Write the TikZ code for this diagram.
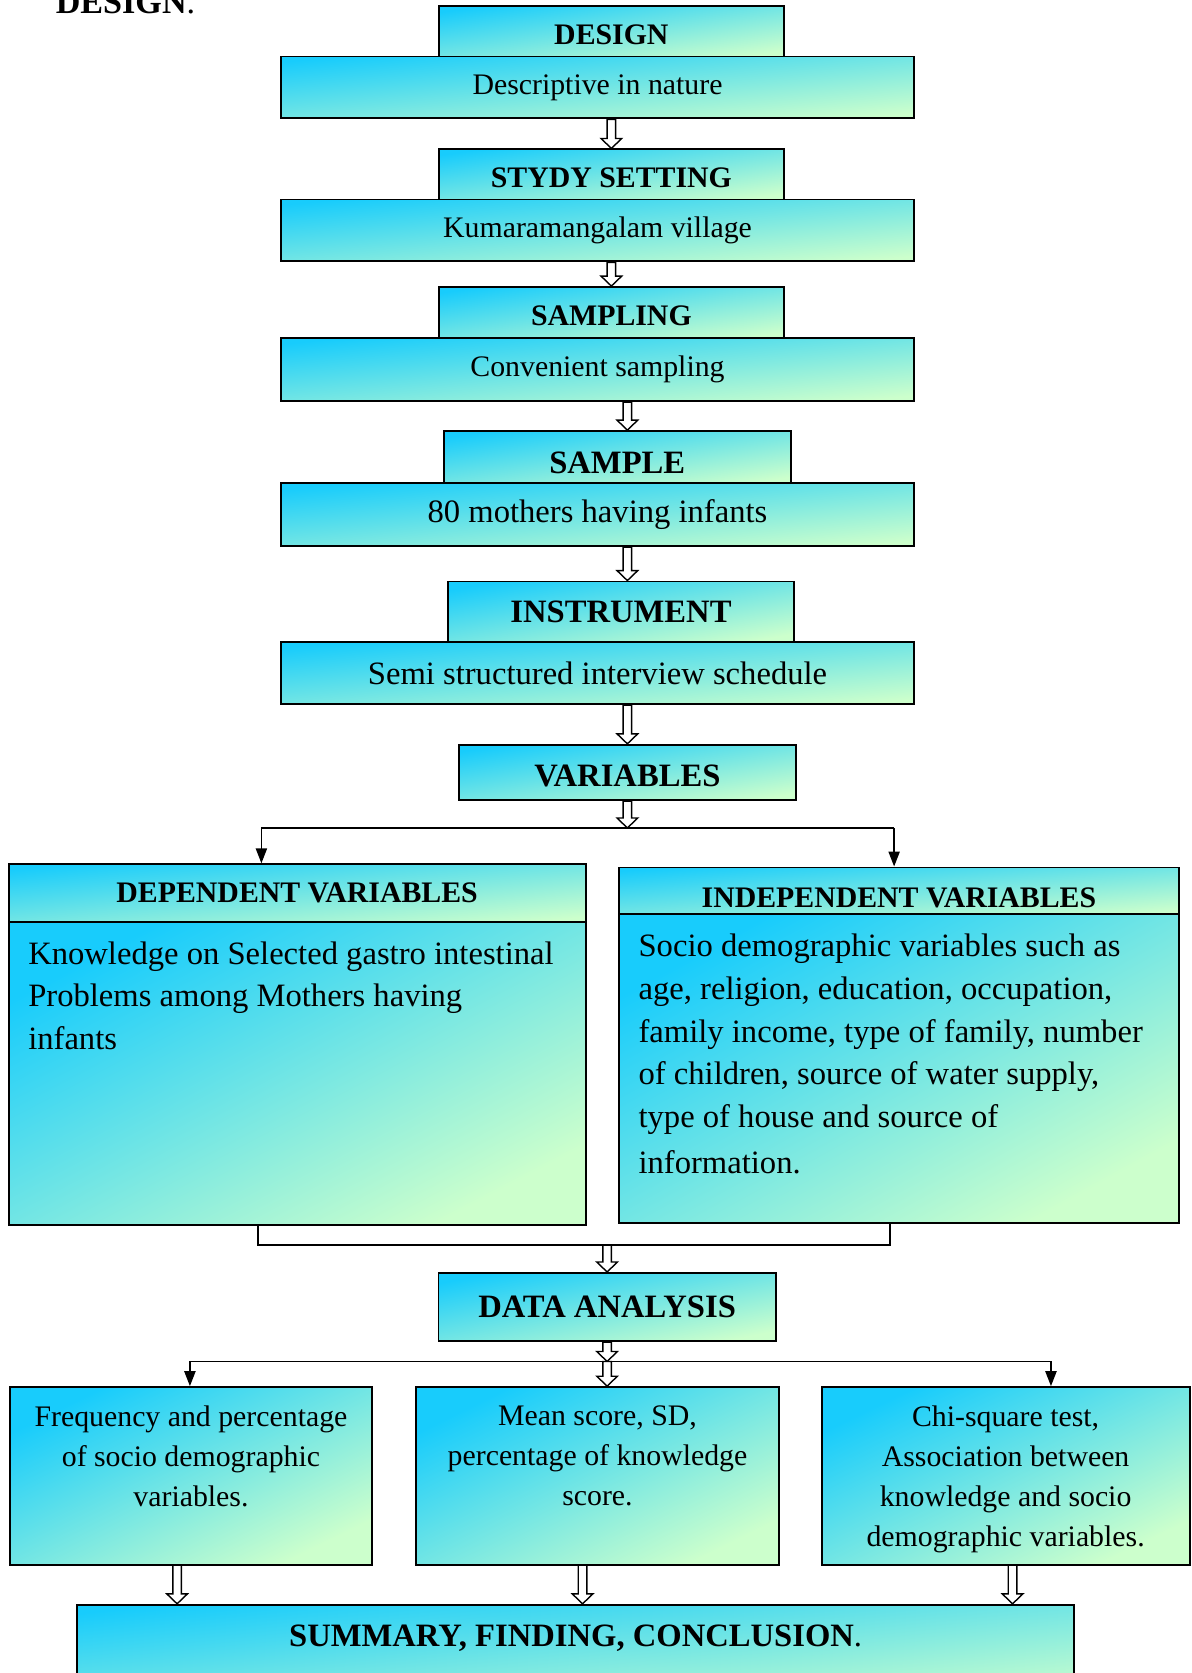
\documentclass[tikz,border=0pt]{standalone}
\usepackage{fontspec}
\setmainfont{Liberation Serif}
\usepackage{tikz}
\usetikzlibrary{arrows.meta, positioning, calc}

\definecolor{boxcyan}{RGB}{24,204,252}
\definecolor{boxgreen}{RGB}{204,255,204}

\tikzset{
  flowbox/.style={
    draw, line width=1pt, top color=boxcyan, bottom color=boxgreen,
    shading angle=#1, inner sep=0pt, align=center,
    font=\fontsize{15.9}{19}\selectfont
  },
  flowbox/.default=8,
  smallbold/.style={font=\fontsize{15.9}{19}\selectfont\bfseries},
  bigfont/.style={font=\fontsize{17.4}{22.8}\selectfont},
  bigbold/.style={font=\fontsize{17.4}{22.8}\selectfont\bfseries},
  lowtext/.style={text height=#1, text depth=0pt},
  headbox/.style={flowbox=#1, smallbold, minimum width=6.48cm},
  headbox/.default=8.3,
  widebox/.style={flowbox=5.6, minimum width=11.88cm, minimum height=1.16cm},
  sidetext/.style={align=left, inner sep=0pt, bigfont},
  smalltext/.style={align=center, inner sep=0pt,
    font=\fontsize{15.9}{21.3}\selectfont},
  hollow/.style={
    draw, fill=white, line width=0.75pt,
    to path={let \p1=(\tikztostart), \p2=(\tikztotarget) in
      (\x1-2.3pt,\y1) -- (\x1-2.3pt,\y2+5.3pt) -- (\x1-5.5pt,\y2+5.3pt)
      -- (\x1,\y2) -- (\x1+5.5pt,\y2+5.3pt) -- (\x1+2.3pt,\y2+5.3pt)
      -- (\x1+2.3pt,\y1) -- cycle}
  },
  splitline/.style={line width=0.8pt},
  splitarrow/.style={line width=0.8pt, -{Triangle[length=8pt, width=6pt]}},
}

\begin{document}
\begin{tikzpicture}[x=0.02cm, y=-0.02cm]
  \useasboundingbox (0,0) rectangle (1117,1568);

  % heading, cut at the page edge
  \node[anchor=base west, inner sep=0pt, font=\fontsize{18.2}{20}\selectfont]
    (title) at (52,12.5) {\textbf{DESIGN}.};

  % --- steps ---
  \node[headbox, lowtext=13.9pt, minimum height=0.94cm] (design) at (573,29.5) {DESIGN};
  \node[widebox] (descr) at (560,82) {Descriptive in nature};

  \node[headbox, lowtext=13.9pt, minimum height=0.94cm] (setting) at (573,163.5) {STYDY SETTING};
  \node[widebox] (village) at (560,216) {Kumaramangalam village};

  \node[headbox=8.4, lowtext=13.9pt, minimum height=0.96cm] (sampling) at (573,293) {SAMPLING};
  \node[widebox, flowbox=5.7, minimum height=1.18cm] (convenient) at (560,346.5) {Convenient sampling};

  \node[headbox=8.6, bigbold, lowtext=17.1pt, minimum width=6.5cm, minimum height=0.98cm] (sample) at (578.5,428.5) {SAMPLE};
  \node[widebox, flowbox=5.7, bigfont, minimum height=1.18cm] (mothers) at (560,482.5) {80 mothers having infants};

  \node[headbox=10, bigbold, minimum height=1.14cm] (instrument) at (582,573.5) {INSTRUMENT};
  \node[widebox, bigfont] (schedule) at (560,631) {Semi structured interview schedule};

  \node[headbox=9.3, bigbold, lowtext=14.9pt, minimum width=6.32cm, minimum height=1.04cm] (variables) at (588,724) {VARIABLES};

  \draw[hollow] (descr.south -| design.north) to (setting.north);
  \draw[hollow] (village.south -| design.north) to (sampling.north);
  \draw[hollow] (convenient.south -| variables.north) to (variables.north |- sample.north);
  \draw[hollow] (mothers.south -| variables.north) to (variables.north |- instrument.north);
  \draw[hollow] (schedule.south -| variables.north) to (variables.north);

  % --- variables ---
  \node[flowbox=5.7, smallbold, minimum width=10.82cm, minimum height=1.08cm] (dephead) at (278.5,837) {DEPENDENT VARIABLES};
  \node[flowbox=27.7, minimum width=10.82cm, minimum height=5.68cm] (depbody) at (278.5,1006) {};
  \node[sidetext, below right=10.8pt and 10.8pt of depbody.north west] (deptext)
    {Knowledge on Selected gastro intestinal\\Problems among Mothers having\\infants};

  \node[flowbox=4.8, smallbold, lowtext=17.3pt, minimum width=10.5cm, minimum height=0.88cm] (indhead) at (842.5,835) {INDEPENDENT VARIABLES};
  \node[flowbox=28.8, minimum width=10.5cm, minimum height=5.78cm] (indbody) at (842.5,1001.5) {};
  \node[sidetext, below right=10.8pt and 10.8pt of indbody.north west] (indtext)
    {Socio demographic variables such as\\age, religion, education, occupation,\\family income, type of family, number\\of children, source of water supply,\\type of house and source of\\[1.7pt]information.};

  \coordinate (vleft) at (245,776);
  \coordinate (vright) at (838,776);
  \draw[hollow] (variables.south) to (variables.south |- vleft);
  \draw[splitline] (vleft) -- (vright);
  \draw[splitarrow] (vleft) -- (vleft |- dephead.north);
  \draw[splitarrow] (vright) -- (vright |- indhead.north);

  % --- analysis ---
  \node[flowbox=11.4, bigbold, minimum width=6.32cm, minimum height=1.28cm] (analysis) at (569,1225) {DATA ANALYSIS};

  \coordinate (jleft) at (242,1167);
  \coordinate (jright) at (834,1167);
  \draw[splitline] (jleft |- depbody.south) -- (jleft) -- (jright) -- (jright |- indbody.south);
  \draw[hollow] (jleft -| analysis.north) to (analysis.north);

  \node[flowbox=26.2, minimum width=6.8cm, minimum height=3.34cm] (freq) at (179,1383.5) {};
  \node[smalltext, below=10.3pt of freq.north] (freqtext)
    {Frequency and percentage\\of socio demographic\\variables.};
  \node[flowbox=26.2, minimum width=6.8cm, minimum height=3.34cm] (mean) at (560,1383.5) {};
  \node[smalltext, below=10.3pt of mean.north] (meantext)
    {Mean score, SD,\\percentage of knowledge\\score.};
  \node[flowbox=25.8, minimum width=6.9cm, minimum height=3.34cm] (chi) at (942.5,1383.5) {};
  \node[smalltext, below=10.3pt of chi.north] (chitext)
    {Chi-square test,\\Association between\\knowledge and socio\\demographic variables.};

  \coordinate (aleft) at (178,1276);
  \coordinate (aright) at (985,1276);
  \draw[hollow] (analysis.south) to (analysis.south |- aleft);
  \draw[splitline] (aleft) -- (aright);
  \draw[splitarrow] (aleft) -- (aleft |- freq.north);
  \draw[splitarrow] (aright) -- (aright |- chi.north);
  \draw[hollow] (aleft -| analysis.south) to (analysis.south |- mean.north);

  % --- summary ---
  \node[flowbox=5.6, minimum width=18.7cm, minimum height=1.84cm] (summary) at (539.5,1550) {};
  \node[bigfont, inner sep=0pt, below=11.2pt of summary.north] (sumtext)
    {\textbf{SUMMARY, FINDING, CONCLUSION}.};

  \coordinate (fdown) at (166,1467);
  \coordinate (mdown) at (546,1467);
  \coordinate (cdown) at (949,1467);
  \draw[hollow] (fdown) to (fdown |- summary.north);
  \draw[hollow] (mdown) to (mdown |- summary.north);
  \draw[hollow] (cdown) to (cdown |- summary.north);
\end{tikzpicture}
\end{document}
